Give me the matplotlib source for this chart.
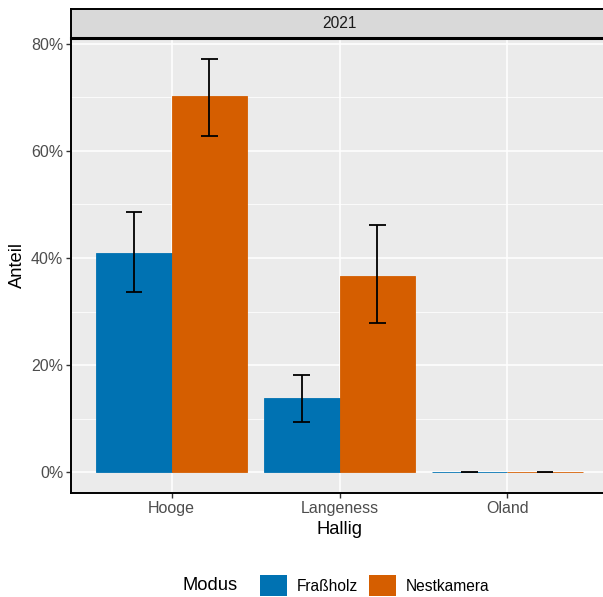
import matplotlib
matplotlib.use("Agg")
import matplotlib.pyplot as plt
import numpy as np
from matplotlib.patches import Patch
from matplotlib.ticker import FuncFormatter, MultipleLocator
from matplotlib.offsetbox import HPacker

plt.rcParams['font.family'] = ['Liberation Sans', 'DejaVu Sans']

# Data: share per island (Hallig) and recording mode (Modus), in percent
halligen = ["Hooge", "Langeness", "Oland"]
modi = ["Fraßholz", "Nestkamera"]
anteil_frassholz = [41.0, 13.8, 0.0]
anteil_nestkamera = [70.3, 36.6, 0.0]
ci_low_frassholz = [33.7, 9.3, 0.0]
ci_high_frassholz = [48.5, 18.2, 0.0]
ci_low_nestkamera = [62.8, 27.8, 0.0]
ci_high_nestkamera = [77.2, 46.1, 0.0]
facet_label = "2021"

colors = {"Fraßholz": "#0072B2", "Nestkamera": "#D55E00"}

W, H = 603, 597
fig = plt.figure(figsize=(W / 100, H / 100), dpi=100)

# panel spans slightly past the right edge of the canvas
px_left, px_right, px_top, px_bottom = 71, 608, 38, 493
ax = fig.add_axes([px_left / W, 1 - px_bottom / H,
                   (px_right - px_left) / W, (px_bottom - px_top) / H])
ax.set_facecolor("#EBEBEB")

x = np.arange(len(halligen)) + 1
bw = 0.45
series = [
    ("Fraßholz", anteil_frassholz, ci_low_frassholz, ci_high_frassholz, -bw / 2),
    ("Nestkamera", anteil_nestkamera, ci_low_nestkamera, ci_high_nestkamera, bw / 2),
]

ymax_data = max(ci_high_nestkamera + ci_high_frassholz)
pad = 0.05 * ymax_data
ax.set_ylim(-pad, ymax_data + pad)
ax.set_xlim(0.4, 3.6)

# grid
for yv in [10, 30, 50, 70]:
    ax.axhline(yv, color="white", lw=0.55, zorder=0.5)
for yv in [0, 20, 40, 60, 80]:
    ax.axhline(yv, color="white", lw=1.1, zorder=0.6)
for xv in x:
    ax.axvline(xv, color="white", lw=1.1, zorder=0.6)

for name, vals, lo, hi, off in series:
    ax.bar(x + off, vals, width=bw, color=colors[name], edgecolor=colors[name],
           linewidth=0.6, zorder=2)
    for xi, v, l, h in zip(x + off, vals, lo, hi):
        ax.plot([xi, xi], [l, h], color="black", lw=1.3, zorder=3,
                solid_capstyle="butt")
        for yc in (l, h):
            ax.plot([xi - 0.05, xi + 0.05], [yc, yc], color="black", lw=1.3,
                    zorder=3, solid_capstyle="butt", alpha=0.8 if l == h else 1)

ax.yaxis.set_major_locator(MultipleLocator(20))
ax.yaxis.set_major_formatter(FuncFormatter(lambda v, p: f"{v:.0f}%"))
ax.set_xticks(x)
ax.set_xticklabels(halligen)
ax.tick_params(axis="both", colors="#333333", labelcolor="#4D4D4D",
               labelsize=11.5, length=3.5, width=1.0)
ax.tick_params(axis="y", pad=2)
ax.tick_params(axis="x", pad=2)

for side in ["top", "right"]:
    ax.spines[side].set_visible(False)
for side in ["left", "bottom"]:
    ax.spines[side].set_color("black")
    ax.spines[side].set_linewidth(1.4)

ax.set_xlabel("Hallig", fontsize=13.2, labelpad=4)
ax.set_ylabel("Anteil", fontsize=13.2, labelpad=4)

# facet strip
sax = fig.add_axes([px_left / W, 1 - px_top / H,
                    (px_right - px_left) / W, (px_top - 9) / H])
sax.set_xlim(0, 1)
sax.set_ylim(0, 1)
sax.set_facecolor("#D9D9D9")
for side in sax.spines.values():
    side.set_color("black")
    side.set_linewidth(1.4)
sax.spines["bottom"].set_linewidth(2.2)
sax.set_xticks([])
sax.set_yticks([])
sax.text((339 - px_left) / (px_right - px_left), 0.5, facet_label,
         ha="center", va="center", fontsize=11.2, color="#1A1A1A")

# legend
handles = [Patch(facecolor=colors[m], edgecolor="none") for m in modi]
leg = fig.legend(handles, modi, title="Modus", loc="lower center",
                 bbox_to_anchor=(336 / W, -0.012), ncol=2, frameon=False,
                 fontsize=11.2, title_fontsize=13.2, handlelength=1.75,
                 handleheight=1.75, handletextpad=0.6, columnspacing=0.7,
                 borderpad=0.0)
title = leg._legend_title_box
body = leg._legend_handle_box
leg._legend_box._children = [HPacker(children=[title, body], pad=0, sep=16,
                                     align="center")]

fig.savefig("out.png", dpi=100)
